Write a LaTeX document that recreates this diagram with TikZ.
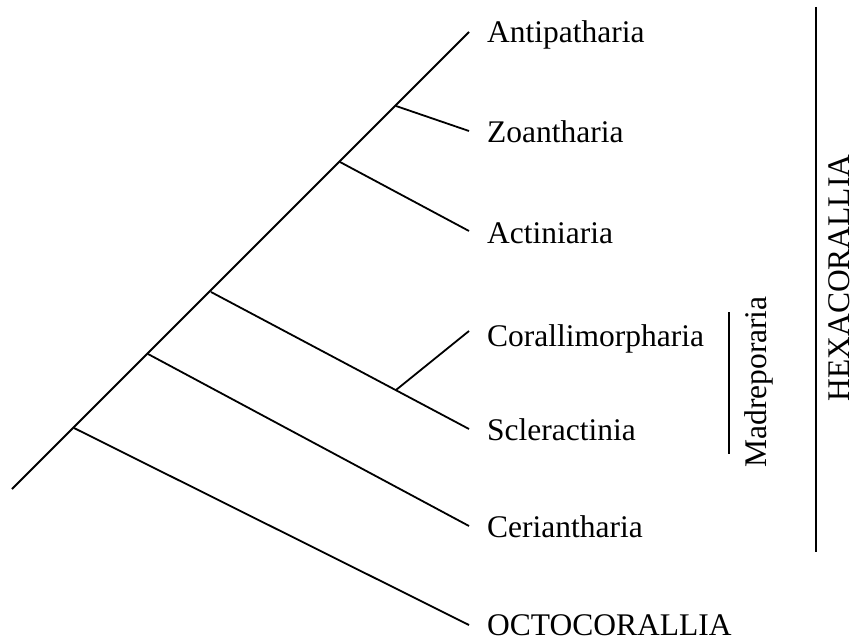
\documentclass[tikz,border=0pt]{standalone}
\usepackage{fontspec}
\setmainfont{Liberation Serif}
\begin{document}
\begin{tikzpicture}[x=1bp,y=-1bp,
  branch/.style={draw=black,line width=1.8bp},
  taxon/.style={anchor=base west,inner sep=0pt,font=\fontsize{31.5bp}{36bp}\selectfont},
  grouplabel/.style={anchor=base,rotate=90,inner sep=0pt,font=\fontsize{31.5bp}{36bp}\selectfont}]
\useasboundingbox (0,0) rectangle (854,641);
% coordinates
\coordinate (root) at (12,489);
\coordinate (b1) at (74,428);
\coordinate (b2) at (148,354);
\coordinate (b3) at (211,292);
\coordinate (b4) at (340,162);
\coordinate (b5) at (396,106);
\coordinate (c) at (396,390);
\coordinate (eA) at (469,32);
\coordinate (eZ) at (469,131);
\coordinate (eAc) at (469,231);
\coordinate (eCo) at (469,331);
\coordinate (eS) at (469,429);
\coordinate (eCe) at (469,526);
\coordinate (eO) at (469,625);
% labels
\node[taxon] (tA) at (487,43) {Antipatharia};
\node[taxon] (tZ) at (487,143) {Zoantharia};
\node[taxon] (tAc) at (487,244) {Actiniaria};
\node[taxon] (tCo) at (487,346) {Corallimorpharia};
\node[taxon] (tS) at (487,440) {Scleractinia};
\node[taxon] (tCe) at (487,537) {Ceriantharia};
\node[taxon] (tO) at (487,635) {OCTOCORALLIA};
\node[grouplabel] (mad) at (766,382) {Madreporaria};
\node[grouplabel] (hex) at (849,278) {HEXACORALLIA};
% tree
\draw[branch] (root) -- (eA);
\draw[branch] (b5) -- (eZ);
\draw[branch] (b4) -- (eAc);
\draw[branch] (b3) -- (eS);
\draw[branch] (c) -- (eCo);
\draw[branch] (b2) -- (eCe);
\draw[branch] (b1) -- (eO);
% group bars
\coordinate (m1) at (729,312);
\coordinate (m2) at (729,454);
\coordinate (h1) at (816,7);
\coordinate (h2) at (816,552);
\draw[branch] (m1) -- (m2);
\draw[branch] (h1) -- (h2);
\end{tikzpicture}
\end{document}
